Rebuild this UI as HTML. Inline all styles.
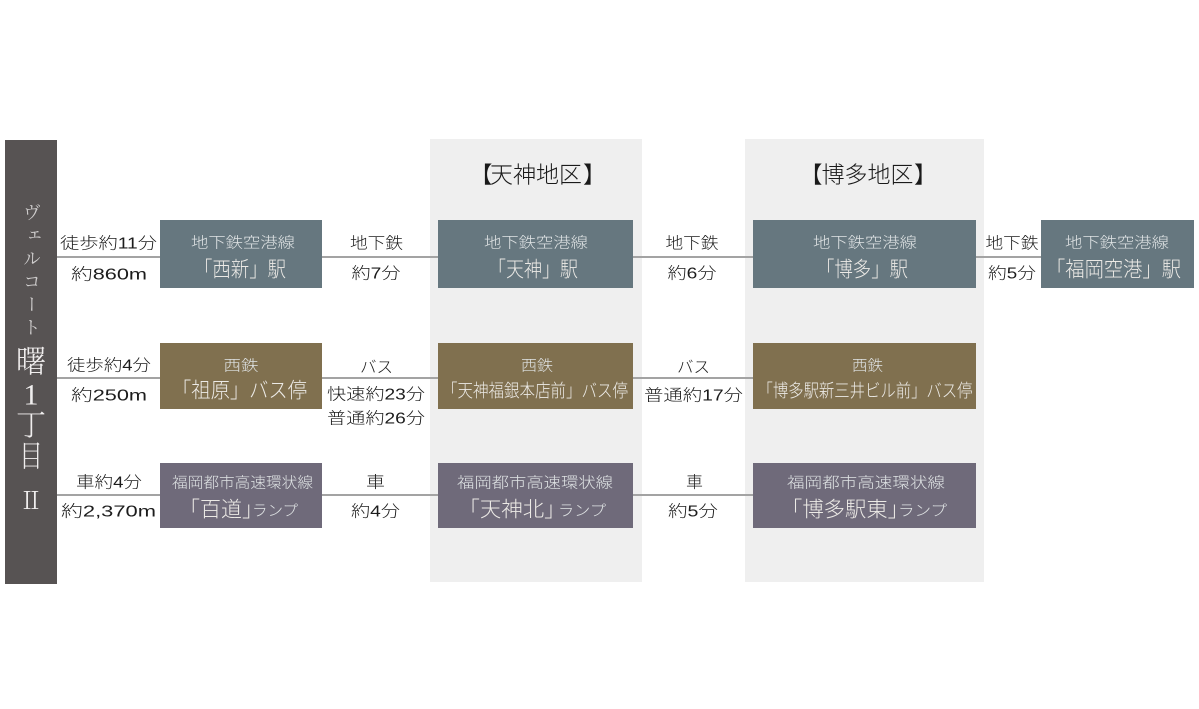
<!DOCTYPE html>
<html lang="ja">
<head>
<meta charset="utf-8">
<style>
html,body{margin:0;padding:0;background:#fff;width:1199px;height:709px;overflow:hidden}
svg{display:block;position:absolute;left:0;top:0}
text{font-family:"Liberation Sans","Noto Sans CJK JP",sans-serif;font-weight:300;text-anchor:middle;dominant-baseline:central}
.d{fill:#1c1c1c;font-size:16px}
.s{fill:#dfe3e4;font-size:15px}
.b{fill:#eceae6;font-size:21px}
.h{fill:#1a1a1a;font-size:23px}
.w{fill:#f0eeee;font-family:"Liberation Serif","Noto Serif CJK JP",serif}
#t{filter:blur(.35px)}
#v{position:absolute;left:20px;top:203px;width:22px;height:145px;writing-mode:vertical-rl;font:18px/22px "Liberation Serif","Noto Serif CJK JP",serif;letter-spacing:5px;color:#cfcdcd;filter:blur(.35px)}
</style>
</head>
<body>
<svg width="1199" height="709" viewBox="0 0 1199 709" xmlns="http://www.w3.org/2000/svg">
<rect x="430" y="139" width="212" height="443" fill="#efefef"/>
<rect x="745" y="139" width="239" height="443" fill="#efefef"/>
<rect x="5" y="140" width="52" height="444" fill="#575353"/>

<g stroke="#a3a3a3" stroke-width="2">
<line x1="57" y1="257" x2="1041" y2="257"/>
<line x1="57" y1="378" x2="753" y2="378"/>
<line x1="57" y1="495" x2="753" y2="495"/>
</g>

<g fill="#66777f">
<rect x="160" y="220" width="162" height="68"/>
<rect x="438" y="220" width="195" height="68"/>
<rect x="753" y="220" width="223" height="68"/>
<rect x="1041" y="220" width="153" height="68"/>
</g>
<g fill="#80704f">
<rect x="160" y="343" width="162" height="66"/>
<rect x="438" y="343" width="195" height="66"/>
<rect x="753" y="343" width="223" height="66"/>
</g>
<g fill="#6f6a7a">
<rect x="160" y="463" width="162" height="65"/>
<rect x="438" y="463" width="195" height="65"/>
<rect x="753" y="463" width="223" height="65"/>
</g>

<g id="t" transform="translate(0,2)">
<text class="h" x="481" y="172.500">【</text>
<text class="h" x="536" y="172.500" textLength="92" lengthAdjust="spacingAndGlyphs">天神地区</text>
<text class="h" x="594.500" y="172.500">】</text>
<text class="h" x="811" y="172.500">【</text>
<text class="h" x="867.500" y="172.500" textLength="92" lengthAdjust="spacingAndGlyphs">博多地区</text>
<text class="h" x="925.500" y="172.500">】</text>

<text class="d" x="108.500" y="242" textLength="97" lengthAdjust="spacingAndGlyphs">徒歩約11分</text>
<text class="d" x="109" y="273" textLength="76" lengthAdjust="spacingAndGlyphs">約860m</text>
<text class="d" x="376.500" y="242" textLength="53" lengthAdjust="spacingAndGlyphs">地下鉄</text>
<text class="d" x="376" y="272" textLength="49" lengthAdjust="spacingAndGlyphs">約7分</text>
<text class="d" x="692" y="242" textLength="53" lengthAdjust="spacingAndGlyphs">地下鉄</text>
<text class="d" x="692" y="272" textLength="49" lengthAdjust="spacingAndGlyphs">約6分</text>
<text class="d" x="1012" y="242" textLength="53" lengthAdjust="spacingAndGlyphs">地下鉄</text>
<text class="d" x="1012" y="272" textLength="48" lengthAdjust="spacingAndGlyphs">約5分</text>

<text class="s" x="243" y="241" textLength="104" lengthAdjust="spacingAndGlyphs">地下鉄空港線</text>
<text class="b" x="240" y="268" textLength="92" lengthAdjust="spacingAndGlyphs">「西新」駅</text>
<text class="s" x="536" y="241" textLength="104" lengthAdjust="spacingAndGlyphs">地下鉄空港線</text>
<text class="b" x="533" y="268" textLength="90" lengthAdjust="spacingAndGlyphs">「天神」駅</text>
<text class="s" x="865" y="241" textLength="104" lengthAdjust="spacingAndGlyphs">地下鉄空港線</text>
<text class="b" x="862" y="268" textLength="92" lengthAdjust="spacingAndGlyphs">「博多」駅</text>
<text class="s" x="1117" y="241" textLength="104" lengthAdjust="spacingAndGlyphs">地下鉄空港線</text>
<text class="b" x="1113.500" y="268" textLength="135" lengthAdjust="spacingAndGlyphs">「福岡空港」駅</text>

<text class="d" x="109" y="364" textLength="84" lengthAdjust="spacingAndGlyphs">徒歩約4分</text>
<text class="d" x="109" y="394" textLength="76" lengthAdjust="spacingAndGlyphs">約250m</text>
<text class="d" x="376.500" y="366" textLength="33" lengthAdjust="spacingAndGlyphs">バス</text>
<text class="d" x="376" y="393" textLength="98" lengthAdjust="spacingAndGlyphs">快速約23分</text>
<text class="d" x="376" y="417" textLength="98" lengthAdjust="spacingAndGlyphs">普通約26分</text>
<text class="d" x="693.500" y="366" textLength="33" lengthAdjust="spacingAndGlyphs">バス</text>
<text class="d" x="693.500" y="394" textLength="99" lengthAdjust="spacingAndGlyphs">普通約17分</text>

<text class="s" x="241" y="364" textLength="35" lengthAdjust="spacingAndGlyphs">西鉄</text>
<text class="b" x="239.500" y="389" textLength="135" lengthAdjust="spacingAndGlyphs">「祖原」バス停</text>
<text class="s" x="537" y="364" textLength="32" lengthAdjust="spacingAndGlyphs">西鉄</text>
<text class="b" x="535" y="389" textLength="186" lengthAdjust="spacingAndGlyphs" style="font-size:18px">「天神福銀本店前」バス停</text>
<text class="s" x="867.500" y="364" textLength="31" lengthAdjust="spacingAndGlyphs">西鉄</text>
<text class="b" x="865" y="389" textLength="215" lengthAdjust="spacingAndGlyphs" style="font-size:18px">「博多駅新三井ビル前」バス停</text>

<text class="d" x="109" y="481" textLength="66" lengthAdjust="spacingAndGlyphs">車約4分</text>
<text class="d" x="108.500" y="510" textLength="95" lengthAdjust="spacingAndGlyphs">約2,370m</text>
<text class="d" x="375.500" y="481" textLength="19" lengthAdjust="spacingAndGlyphs">車</text>
<text class="d" x="375.500" y="510" textLength="49" lengthAdjust="spacingAndGlyphs">約4分</text>
<text class="d" x="694.500" y="481" textLength="17" lengthAdjust="spacingAndGlyphs">車</text>
<text class="d" x="693" y="510" textLength="50" lengthAdjust="spacingAndGlyphs">約5分</text>

<text class="s" x="242.500" y="481" textLength="141" lengthAdjust="spacingAndGlyphs">福岡都市高速環状線</text>
<text class="b" x="221" y="508" textLength="84" lengthAdjust="spacingAndGlyphs">「百道」</text>
<text class="s" x="275" y="509" textLength="46" lengthAdjust="spacingAndGlyphs">ランプ</text>
<text class="s" x="535" y="481" textLength="156" lengthAdjust="spacingAndGlyphs">福岡都市高速環状線</text>
<text class="b" x="512" y="508" textLength="107" lengthAdjust="spacingAndGlyphs">「天神北」</text>
<text class="s" x="582" y="509" textLength="48" lengthAdjust="spacingAndGlyphs">ランプ</text>
<text class="s" x="866" y="481" textLength="158" lengthAdjust="spacingAndGlyphs">福岡都市高速環状線</text>
<text class="b" x="845" y="508" textLength="128" lengthAdjust="spacingAndGlyphs">「博多駅東」</text>
<text class="s" x="922.500" y="509" textLength="49" lengthAdjust="spacingAndGlyphs">ランプ</text>

<text class="w" x="31" y="360" font-size="31" textLength="30" lengthAdjust="spacingAndGlyphs">曙</text>
<text class="w" x="31" y="393" font-size="30">1</text>
<text class="w" x="31" y="424" font-size="30" textLength="30" lengthAdjust="spacingAndGlyphs">丁</text>
<text class="w" x="31" y="455" font-size="30" textLength="24" lengthAdjust="spacingAndGlyphs">目</text>
<text class="w" x="31" y="500" font-size="24">Ⅱ</text>
</g>
</svg>
<div id="v">ヴェルコート</div>
</body>
</html>
